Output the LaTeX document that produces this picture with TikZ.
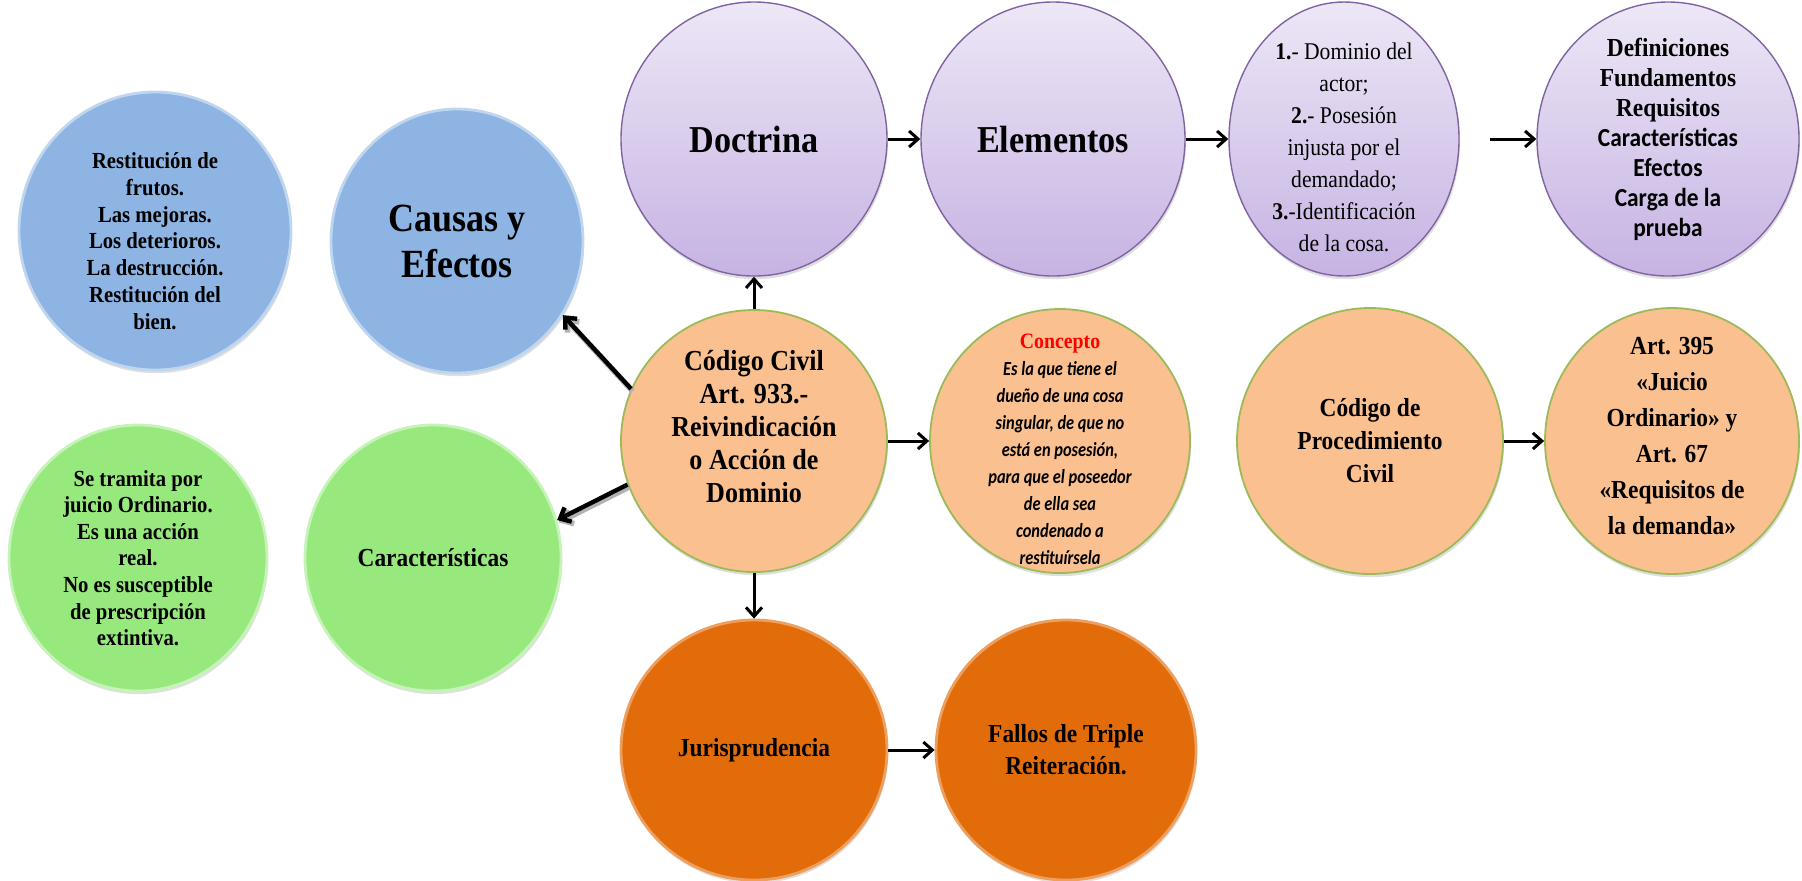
\documentclass[tikz,border=0pt]{standalone}
\usepackage{fontspec}
\setmainfont{Liberation Serif}[FakeStretch=0.9]
\newfontfamily\calibri{Carlito}[FakeStretch=0.9]
\newfontfamily\calibrita{Carlito}[FakeStretch=0.82]
\usetikzlibrary{shapes.geometric,shadows,arrows.meta}

\definecolor{lilaclaro}{RGB}{237,231,246}
\definecolor{lila}{RGB}{198,179,227}
\definecolor{lilaborde}{RGB}{128,100,162}
\definecolor{azul}{RGB}{141,180,226}
\definecolor{verde}{RGB}{152,233,125}
\definecolor{durazno}{RGB}{250,192,143}
\definecolor{oliva}{RGB}{155,187,89}
\definecolor{naranja}{RGB}{227,108,10}

\newcommand{\tam}[2]{\fontsize{#1}{#2}\selectfont}

\begin{document}
\begin{tikzpicture}[x=0.5pt,y=-0.5pt,
  bola/.style={ellipse, inner sep=0pt, drop shadow={opacity=0.25,shadow xshift=0.5pt,shadow yshift=-1.6pt}},
  morada/.style={bola, top color=lilaclaro, bottom color=lila, draw=lilaborde, line width=0.7pt},
  azulada/.style={bola, fill=azul, draw=azul!55!white, line width=1.4pt},
  verdosa/.style={bola, fill=verde, draw=verde!55!white, line width=1.4pt},
  melon/.style={bola, fill=durazno, draw=oliva, line width=0.9pt},
  anaranjada/.style={bola, fill=naranja, draw=naranja!65!white, line width=1.4pt},
  texto/.style={align=center},
  flecha/.style={-{Straight Barb[length=4.5pt,width=8pt]}, line width=1.5pt},
  sombreada/.style={line width=2.2pt, preaction={draw=black!30, line width=2.8pt, transform canvas={shift={(0.8pt,-1.2pt)}}}}
]
\useasboundingbox (0,0) rectangle (1802,880);

% Doctrina row
\node[morada, minimum width=133pt, minimum height=137pt,
  label={[texto, font=\tam{19}{23}\bfseries]center:{Doctrina}}] (doctrina) at (754,139) {};
\node[morada, minimum width=132pt, minimum height=137pt,
  label={[texto, font=\tam{19}{23}\bfseries]center:{Elementos}}] (elementos) at (1053,139) {};
\node[morada, minimum width=115pt, minimum height=137pt,
  label={[texto, font=\tam{12}{16}, yshift=-4pt]center:{\textbf{1.}- Dominio del\\ actor;\\ \textbf{2.}- Posesión\\ injusta por el\\ demandado;\\ \textbf{3.}-Identificación\\ de la cosa.}}] (dominio) at (1344,139) {};
\node[morada, minimum width=131pt, minimum height=137pt,
  label={[texto, font=\tam{13}{15}\bfseries]center:{Definiciones\\ Fundamentos\\ Requisitos\\ {\calibri Características}\\ {\calibri Efectos}\\ {\calibri Carga de la}\\ {\calibri prueba}}}] (definiciones) at (1668,139) {};

% Causas y Efectos
\node[azulada, minimum width=136pt, minimum height=139pt,
  label={[texto, font=\tam{11.5}{13.4}\bfseries, yshift=-5pt]center:{Restitución de\\ frutos.\\ Las mejoras.\\ Los deterioros.\\ La destrucción.\\ Restitución del\\ bien.}}] (restitucion) at (155,231) {};
\node[azulada, minimum width=126pt, minimum height=132pt,
  label={[texto, font=\tam{20}{23}\bfseries]center:{Causas y\\ Efectos}}] (causas) at (457,241) {};

% Codigo Civil row
\node[melon, minimum width=133pt, minimum height=131pt,
  label={[texto, font=\tam{14.5}{16.5}\bfseries, yshift=7pt]center:{Código Civil\\ Art. 933.-\\ Reivindicación\\ o Acción de\\ Dominio}}] (codigo) at (754,441) {};
\node[melon, minimum width=130pt, minimum height=132pt,
  label={[texto, font=\tam{10}{13.5}\calibrita\bfseries\itshape, yshift=-4pt]center:{{\rmfamily\upshape\tam{11}{13.5}\textcolor{red}{Concepto}}\\ Es la que tiene el\\ dueño de una cosa\\ singular, de que no\\ está en posesión,\\ para que el poseedor\\ de ella sea\\ condenado a\\ restituírsela}}] (concepto) at (1060,441) {};
\node[melon, minimum width=133pt, minimum height=133pt,
  label={[texto, font=\tam{13}{16.5}\bfseries]center:{Código de\\ Procedimiento\\ Civil}}] (procedimiento) at (1370,441) {};
\node[melon, minimum width=127pt, minimum height=133pt,
  label={[texto, font=\tam{13}{18}\bfseries, yshift=2.5pt]center:{Art. 395\\ «Juicio\\ Ordinario» y\\ Art. 67\\ «Requisitos de\\ la demanda»}}] (articulos) at (1672,441) {};

% Caracteristicas
\node[verdosa, minimum width=129pt, minimum height=133pt,
  label={[texto, font=\tam{11.5}{13.3}\bfseries]center:{Se tramita por\\ juicio Ordinario.\\ Es una acción\\ real.\\ No es susceptible\\ de prescripción\\ extintiva.}}] (tramita) at (138,558) {};
\node[verdosa, minimum width=128pt, minimum height=133pt,
  label={[texto, font=\tam{13}{17}\bfseries]center:{Características}}] (caracteristicas) at (433,558) {};

% Jurisprudencia row
\node[anaranjada, minimum width=133pt, minimum height=130pt,
  label={[texto, font=\tam{13}{17}\bfseries]center:{Jurisprudencia}}] (jurisprudencia) at (754,750) {};
\node[anaranjada, minimum width=130pt, minimum height=130pt,
  label={[texto, font=\tam{13}{16}\bfseries]center:{Fallos de Triple\\ Reiteración.}}] (fallos) at (1066,750) {};

% Arrows
\draw[flecha] (codigo) -- (doctrina);
\draw[flecha] (doctrina) -- (elementos);
\draw[flecha] (elementos) -- (dominio);
\draw[flecha, shorten <=15pt] (dominio) -- (definiciones);
\draw[flecha] (codigo) -- (concepto);
\draw[flecha] (procedimiento) -- (articulos);
\draw[flecha] (codigo) -- (jurisprudencia);
\draw[flecha] (jurisprudencia) -- (fallos);
\draw[flecha, sombreada] (codigo.157) -- (causas.-35);
\draw[flecha, sombreada] (codigo.199) -- (caracteristicas.17);
\end{tikzpicture}
\end{document}
